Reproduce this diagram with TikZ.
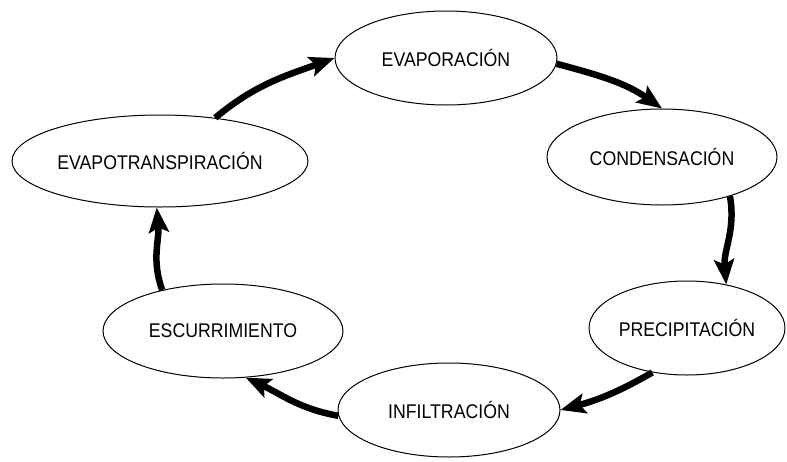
\documentclass[tikz,border=0pt]{standalone}
\usepackage{fontspec}
\setmainfont{Liberation Sans}
\usetikzlibrary{shapes.geometric,arrows.meta}
\newcommand{\tallt}[1]{\scalebox{1}[1.12]{#1}}
\begin{document}
\begin{tikzpicture}[x=1pt,y=1pt,
  stage/.style={draw=black, line width=1pt, ellipse, inner sep=0pt, fill=white,
    font=\fontsize{17.7}{20}\selectfont},
  flow/.style={line width=6.5pt, -{Stealth[length=25pt,width=20pt,inset=5pt]}}]
\useasboundingbox (0,0) rectangle (787,-461);
\node[stage, minimum width=222pt, minimum height=94pt] (evap) at (446,-58) {\tallt{EVAPORACIÓN}};
\node[stage, minimum width=230pt, minimum height=96pt] (cond) at (662,-157) {\tallt{CONDENSACIÓN}};
\node[stage, minimum width=196pt, minimum height=94pt] (prec) at (687,-328) {\tallt{PRECIPITACIÓN}};
\node[stage, minimum width=222pt, minimum height=94pt] (infi) at (449,-410) {\tallt{INFILTRACIÓN}};
\node[stage, minimum width=240pt, minimum height=94pt] (escu) at (223,-331) {\tallt{ESCURRIMIENTO}};
\node[stage, minimum width=296pt, minimum height=92pt] (evtr) at (160,-161) {\tallt{EVAPOTRANSPIRACIÓN}};
\draw[flow] (evap.-3) to[out=-15,in=145] (cond.north);
\draw[flow] (cond.-30) to[out=-80,in=95] (prec.48);
\draw[flow] (prec.-128) to[out=-150,in=15] (infi.east);
\draw[flow] (infi.183) to[out=170,in=-25] (escu.-64);
\draw[flow] (escu.146) to[out=110,in=-85] (evtr.-94);
\draw[flow] (evtr.38) to[out=40,in=200] (evap.west);
\end{tikzpicture}
\end{document}
